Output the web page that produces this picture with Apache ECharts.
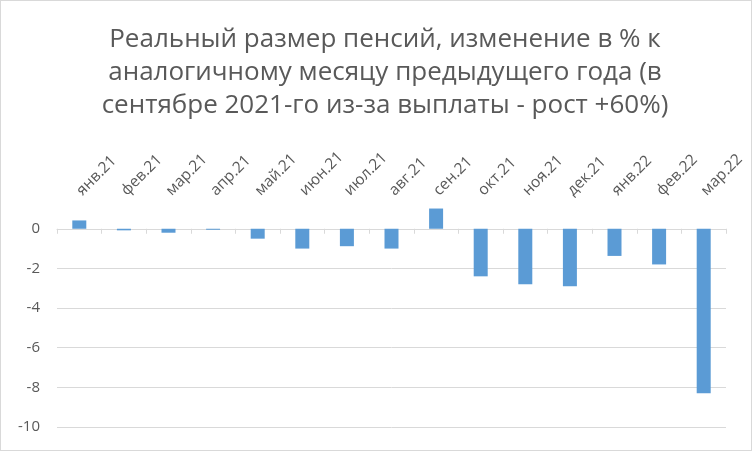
<!DOCTYPE html>
<html>
<head>
<meta charset="utf-8">
<script src="https://cdn.jsdelivr.net/npm/echarts@6/dist/echarts.min.js"></script>
<style>
  body { margin: 0; background: #fff; }
  #chart { width: 752px; height: 451px; box-sizing: border-box; border: 1px solid #d9d9d9; }
</style>
</head>
<body>
<div id="chart"></div>
<script>
  // месяцы и значения (изменение в %)
  const months = ['янв.21', 'фев.21', 'мар.21', 'апр.21', 'май.21', 'июн.21', 'июл.21', 'авг.21',
    'сен.21', 'окт.21', 'ноя.21', 'дек.21', 'янв.22', 'фев.22', 'мар.22'];
  const change = [0.42, -0.08, -0.2, -0.05, -0.5, -1.0, -0.88, -1.0, 1.02, -2.4, -2.8, -2.9, -1.37, -1.8, -8.3];
  const titleText = 'Реальный размер пенсий, изменение в % к\nаналогичному месяцу предыдущего года (в\nсентябре 2021-го из-за выплаты - рост +60%)';

  const chart = echarts.init(document.getElementById('chart'));
  const font = 'Open Sans';

  chart.setOption({
    animation: false,
    title: {
      text: titleText,
      left: 379,
      top: 17,
      textAlign: 'center',
      textStyle: { fontFamily: font, fontSize: 26, fontWeight: 'normal', color: '#595959', lineHeight: 33 }
    },
    grid: { left: 56, top: 200, width: 669, height: 226 },
    xAxis: [
      {
        // подписи месяцев сверху
        type: 'category',
        data: months,
        position: 'top',
        axisLine: { show: false, onZero: false },
        axisTick: { show: false },
        axisLabel: { rotate: -45, interval: 0, margin: 8, fontFamily: font, fontSize: 15.5, color: '#595959' }
      },
      {
        // ось на нуле с засечками
        type: 'category',
        data: months,
        position: 'bottom',
        axisLine: { show: true, onZero: true, lineStyle: { color: '#d9d9d9', width: 1 } },
        axisTick: { show: true, interval: 0, length: 5, lineStyle: { color: '#d9d9d9' } },
        axisLabel: { show: false }
      }
    ],
    yAxis: {
      type: 'value',
      min: -10,
      max: 1.4,
      interval: 2,
      axisLine: { show: false },
      axisTick: { show: false },
      axisLabel: {
        margin: 17, fontFamily: font, fontSize: 15, color: '#595959', showMaxLabel: false
      },
      splitLine: { showMaxLine: false, lineStyle: { color: '#d9d9d9' } }
    },
    series: [{
      type: 'bar',
      data: change,
      xAxisIndex: 0,
      barWidth: 14,
      itemStyle: { color: '#5b9bd5' }
    }]
  });
</script>
</body>
</html>
